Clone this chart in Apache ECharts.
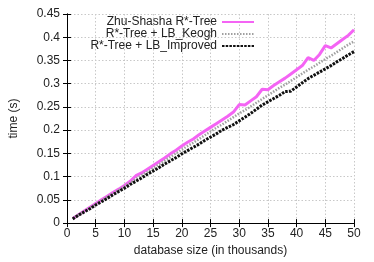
<!DOCTYPE html>
<html><head><meta charset="utf-8">
<script src="https://cdn.jsdelivr.net/npm/echarts@6/dist/echarts.min.js"></script>
<style>html,body{margin:0;padding:0;background:#fff}#c{width:374px;height:262px}</style>
</head><body><div id="c"></div>
<script>
const sizes = [1,2,3,4,5,6,7,8,9,10,11,12,13,14,15,16,17,18,19,20,21,22,23,24,25,26,27,28,29,30,31,32,33,34,35,36,37,38,39,40,41,42,43,44,45,46,47,48,49,50];
const zhuShasha = [0.010,0.018,0.026,0.034,0.042,0.050,0.058,0.066,0.073,0.081,0.090,0.102,0.108,0.116,0.124,0.132,0.140,0.149,0.157,0.166,0.174,0.181,0.190,0.198,0.206,0.214,0.222,0.230,0.239,0.255,0.254,0.263,0.272,0.288,0.287,0.296,0.304,0.312,0.321,0.330,0.339,0.356,0.350,0.363,0.382,0.377,0.386,0.395,0.404,0.416];
const lbKeogh = [0.010,0.018,0.026,0.033,0.041,0.049,0.056,0.064,0.071,0.079,0.087,0.095,0.103,0.110,0.118,0.126,0.134,0.142,0.150,0.158,0.166,0.173,0.181,0.189,0.197,0.205,0.212,0.220,0.228,0.236,0.243,0.251,0.259,0.267,0.275,0.283,0.291,0.298,0.306,0.314,0.322,0.330,0.337,0.345,0.353,0.360,0.368,0.376,0.384,0.391];
const lbImproved = [0.009,0.017,0.024,0.031,0.039,0.046,0.053,0.061,0.068,0.075,0.083,0.090,0.097,0.105,0.112,0.119,0.127,0.134,0.141,0.149,0.156,0.163,0.170,0.178,0.185,0.192,0.200,0.206,0.212,0.220,0.228,0.236,0.245,0.254,0.261,0.268,0.275,0.283,0.284,0.293,0.302,0.311,0.318,0.325,0.332,0.339,0.347,0.354,0.362,0.369];
const seriesNames = ['Zhu-Shasha R*-Tree','R*-Tree + LB_Keogh','R*-Tree + LB_Improved'];
const xTitle = 'database size (in thousands)';
const yTitle = 'time (s)';

const pair = arr => sizes.map((s,i)=>[s,arr[i]]);
const font = 'Liberation Sans, Arial, sans-serif';
const txt = '#222';
const chart = echarts.init(document.getElementById('c'), null, {renderer:'canvas'});
const gridLine = {show:true, lineStyle:{color:'#c8c8c8', type:[1.5,2], width:1}};
chart.setOption({
  animation:false,
  grid:{left:65, right:20, top:14, bottom:34, containLabel:false},
  legend:{
    orient:'vertical', right:119, top:16, align:'right', itemGap:0, padding:0,
    itemWidth:32, itemHeight:12,
    itemStyle:{opacity:0},
    textStyle:{fontFamily:font, fontSize:12, lineHeight:12, color:txt},
    data:seriesNames
  },
  xAxis:[{
    type:'value', min:0, max:50, interval:5,
    name:xTitle, nameLocation:'middle', nameGap:21,
    nameTextStyle:{fontFamily:font, fontSize:12, color:txt},
    axisLine:{show:true, lineStyle:{color:'#000', width:1}},
    axisTick:{show:true, inside:true, length:4, lineStyle:{color:'#000'}},
    axisLabel:{fontFamily:font, fontSize:12, color:txt, margin:5},
    splitLine:gridLine
  },{
    type:'value', min:0, max:50, interval:5, position:'top',
    axisLine:{show:true, lineStyle:{color:'#000', width:1}},
    axisTick:{show:true, inside:true, length:4, lineStyle:{color:'#000'}},
    axisLabel:{show:false}, splitLine:{show:false}
  }],
  yAxis:[{
    type:'value', min:0, max:0.45, interval:0.05,
    name:yTitle, nameLocation:'middle', nameGap:47, nameRotate:90,
    nameTextStyle:{fontFamily:font, fontSize:12, color:txt},
    axisLine:{show:true, lineStyle:{color:'#000', width:1}},
    axisTick:{show:true, inside:true, length:4, lineStyle:{color:'#000'}},
    axisLabel:{fontFamily:font, fontSize:12, color:txt, margin:7},
    splitLine:gridLine
  },{
    type:'value', min:0, max:0.45, interval:0.05, position:'right',
    axisLine:{show:true, lineStyle:{color:'#000', width:1}},
    axisTick:{show:true, inside:true, length:4, lineStyle:{color:'#000'}},
    axisLabel:{show:false}, splitLine:{show:false}
  }],
  series:[
    {name:seriesNames[0], type:'line', data:pair(zhuShasha), symbol:'none',
     color:'#f464f4', lineStyle:{color:'#f464f4', width:3}},
    {name:seriesNames[1], type:'line', data:pair(lbKeogh), symbol:'none',
     color:'#a0a0a0', lineStyle:{color:'#a0a0a0', width:2.5, type:[1.5,1.5]}},
    {name:seriesNames[2], type:'line', data:pair(lbImproved), symbol:'none',
     color:'#111', lineStyle:{color:'#111', width:3, type:[2.5,1.2]}}
  ]
});
</script></body></html>
